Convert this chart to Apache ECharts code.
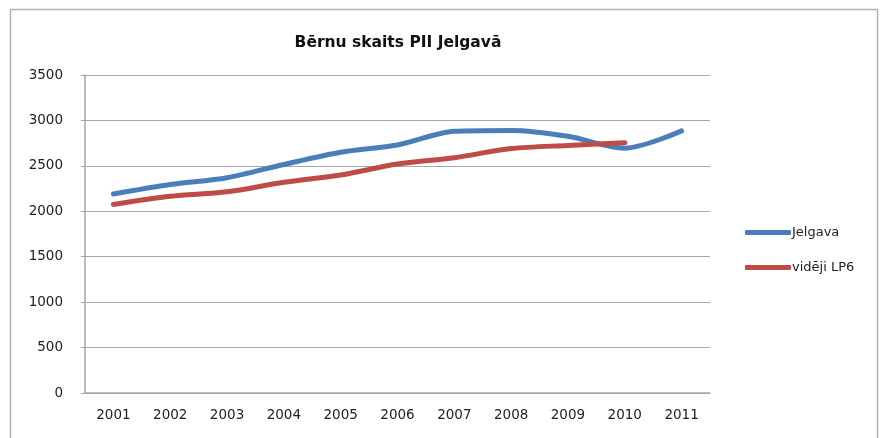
<!DOCTYPE html>
<html>
<head>
<meta charset="utf-8">
<script src="https://cdn.jsdelivr.net/npm/echarts@6/dist/echarts.min.js"></script>
<style>
html,body{margin:0;padding:0;background:#fff;}
#chart{width:882px;height:438px;}
</style>
</head>
<body>
<div id="chart"></div>
<script>
const titleText = 'Bērnu skaits PII Jelgavā';
const years = ['2001','2002','2003','2004','2005','2006','2007','2008','2009','2010','2011'];
const jelgava = [2190, 2295, 2370, 2515, 2650, 2730, 2880, 2890, 2825, 2695, 2885];
const lp6 = [2075, 2165, 2215, 2320, 2400, 2520, 2590, 2690, 2725, 2755];
const seriesNames = ['Jelgava', 'vidēji LP6'];
const yTicks = [0, 500, 1000, 1500, 2000, 2500, 3000, 3500];

const chart = echarts.init(document.getElementById('chart'));
const font = 'DejaVu Sans';
chart.setOption({
  animation: false,
  backgroundColor: '#ffffff',
  graphic: [{
    type: 'rect', left: 8, top: 7,
    shape: { width: 867, height: 440 },
    style: { fill: 'none', stroke: '#b3b3b3', lineWidth: 1.5 }
  }],
  title: {
    text: titleText,
    left: 393, top: 30, textAlign: 'center',
    textStyle: { fontFamily: font, fontSize: 15.5, fontWeight: 'bold', color: '#111' }
  },
  legend: {
    orient: 'vertical',
    left: 740, top: 221,
    itemWidth: 46, itemHeight: 5, itemGap: 22,
    icon: 'roundRect',
    textStyle: { fontFamily: font, fontSize: 13, color: '#222', padding: [0,0,0,-4] },
    data: seriesNames
  },
  grid: { left: 85, right: 172, top: 75, bottom: 45, containLabel: false },
  xAxis: {
    type: 'category',
    data: years,
    boundaryGap: true,
    axisLine: { lineStyle: { color: '#a6a6a6', width: 1.5 } },
    axisTick: { show: false },
    axisLabel: { fontFamily: font, fontSize: 13.5, color: '#222', margin: 15 },
    splitLine: { show: false }
  },
  yAxis: {
    type: 'value',
    min: yTicks[0], max: yTicks[yTicks.length - 1], interval: 500,
    axisLine: { show: true, lineStyle: { color: '#a6a6a6', width: 1.5 } },
    axisTick: { show: true, length: 4, lineStyle: { color: '#a6a6a6' } },
    axisLabel: { fontFamily: font, fontSize: 13.5, color: '#222', margin: 22,
      formatter: function (v) { return String(v); } },
    splitLine: { lineStyle: { color: '#a6a6a6', width: 1.2 } }
  },
  series: [
    {
      name: seriesNames[0], type: 'line', data: jelgava,
      smooth: 0.3, showSymbol: false, symbol: 'none',
      lineStyle: { color: '#4a7ebb', width: 5, cap: 'round', join: 'round' },
      itemStyle: { color: '#4a7ebb' }
    },
    {
      name: seriesNames[1], type: 'line', data: lp6,
      smooth: 0.3, showSymbol: false, symbol: 'none',
      lineStyle: { color: '#be4b48', width: 5, cap: 'round', join: 'round' },
      itemStyle: { color: '#be4b48' }
    }
  ]
});
</script>
</body>
</html>
